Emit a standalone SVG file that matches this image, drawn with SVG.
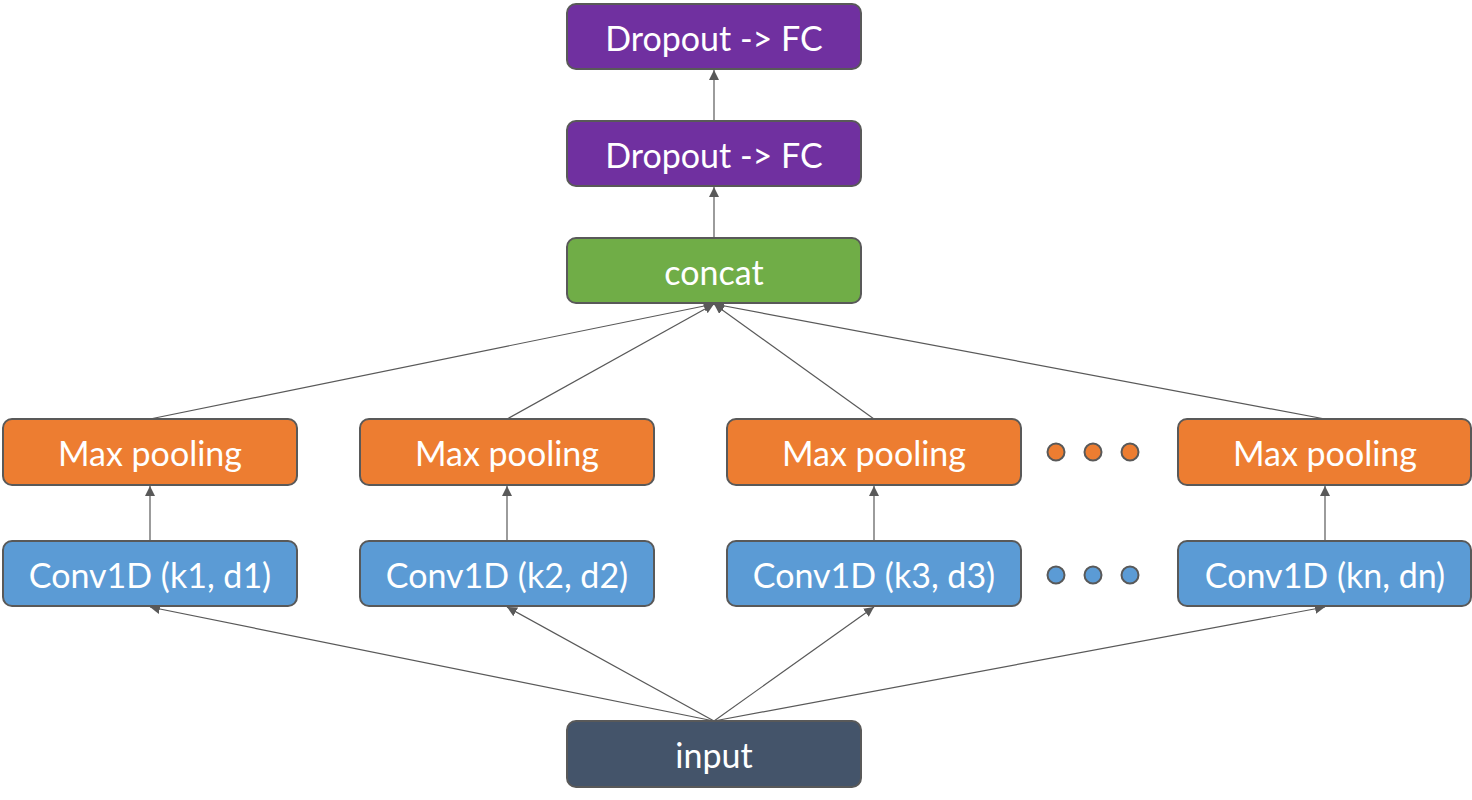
<svg xmlns="http://www.w3.org/2000/svg" width="1472" height="800" viewBox="0 0 1472 800">
<defs>
<marker id="ah" viewBox="0 0 10 10" refX="10" refY="5" markerWidth="10" markerHeight="10" markerUnits="userSpaceOnUse" orient="auto"><path d="M0,0 L10,5 L0,10 z" fill="#595959"/></marker>
<style>
.box{stroke:#595959;stroke-width:2}
.t{font-family:Lato,"Open Sans",sans-serif;font-size:34px;fill:#fff;text-anchor:middle;dominant-baseline:central}
.fc{fill:#7030A0}.cc{fill:#70AD47}.mp{fill:#ED7D31}.cv{fill:#5B9BD5}.in{fill:#44546A}
.c{stroke:#595959;stroke-width:1.2;fill:none;marker-end:url(#ah)}
.dot{stroke:#595959;stroke-width:2}
</style>
</defs>
<rect width="1472" height="800" fill="#fff"/>
<g id="connectors">
<line class="c" x1="714" y1="121" x2="714" y2="70"/>
<line class="c" x1="714" y1="238" x2="714" y2="187"/>
<line class="c" x1="150" y1="419" x2="714" y2="304"/>
<line class="c" x1="507" y1="419" x2="714" y2="304"/>
<line class="c" x1="874" y1="419" x2="714" y2="304"/>
<line class="c" x1="1325" y1="419" x2="714" y2="304"/>
<line class="c" x1="150" y1="541" x2="150" y2="486"/>
<line class="c" x1="507" y1="541" x2="507" y2="486"/>
<line class="c" x1="874" y1="541" x2="874" y2="486"/>
<line class="c" x1="1325" y1="541" x2="1325" y2="486"/>
<line class="c" x1="714" y1="721" x2="150" y2="607"/>
<line class="c" x1="714" y1="721" x2="507" y2="607"/>
<line class="c" x1="714" y1="721" x2="874" y2="607"/>
<line class="c" x1="714" y1="721" x2="1325" y2="607"/>
</g>
<g id="fc2"><rect class="box fc" x="567" y="4" width="294" height="65" rx="9"/><text class="t" x="714" y="37">Dropout -&gt; FC</text></g>
<g id="fc1"><rect class="box fc" x="567" y="121" width="294" height="65" rx="9"/><text class="t" x="714" y="154">Dropout -&gt; FC</text></g>
<g id="concat"><rect class="box cc" x="567" y="238" width="294" height="65" rx="9"/><text class="t" x="714" y="271">concat</text></g>
<g id="mp1"><rect class="box mp" x="3" y="419" width="294" height="66" rx="9"/><text class="t" x="150" y="452">Max pooling</text></g>
<g id="mp2"><rect class="box mp" x="360" y="419" width="294" height="66" rx="9"/><text class="t" x="507" y="452">Max pooling</text></g>
<g id="mp3"><rect class="box mp" x="727" y="419" width="294" height="66" rx="9"/><text class="t" x="874" y="452">Max pooling</text></g>
<g id="mpn"><rect class="box mp" x="1178" y="419" width="293" height="66" rx="9"/><text class="t" x="1325" y="452">Max pooling</text></g>
<g id="mpdots"><circle class="dot mp" cx="1056" cy="452" r="8.5"/><circle class="dot mp" cx="1093" cy="452" r="8.5"/><circle class="dot mp" cx="1130" cy="452" r="8.5"/></g>
<g id="cv1"><rect class="box cv" x="3" y="541" width="294" height="65" rx="9"/><text class="t" x="150" y="574">Conv1D (k1, d1)</text></g>
<g id="cv2"><rect class="box cv" x="360" y="541" width="294" height="65" rx="9"/><text class="t" x="507" y="574">Conv1D (k2, d2)</text></g>
<g id="cv3"><rect class="box cv" x="727" y="541" width="294" height="65" rx="9"/><text class="t" x="874" y="574">Conv1D (k3, d3)</text></g>
<g id="cvn"><rect class="box cv" x="1178" y="541" width="293" height="65" rx="9"/><text class="t" x="1325" y="574">Conv1D (kn, dn)</text></g>
<g id="cvdots"><circle class="dot cv" cx="1056" cy="575" r="8.5"/><circle class="dot cv" cx="1093" cy="575" r="8.5"/><circle class="dot cv" cx="1130" cy="575" r="8.5"/></g>
<g id="input"><rect class="box in" x="567" y="721" width="294" height="66" rx="9"/><text class="t" x="714" y="754">input</text></g>
</svg>
